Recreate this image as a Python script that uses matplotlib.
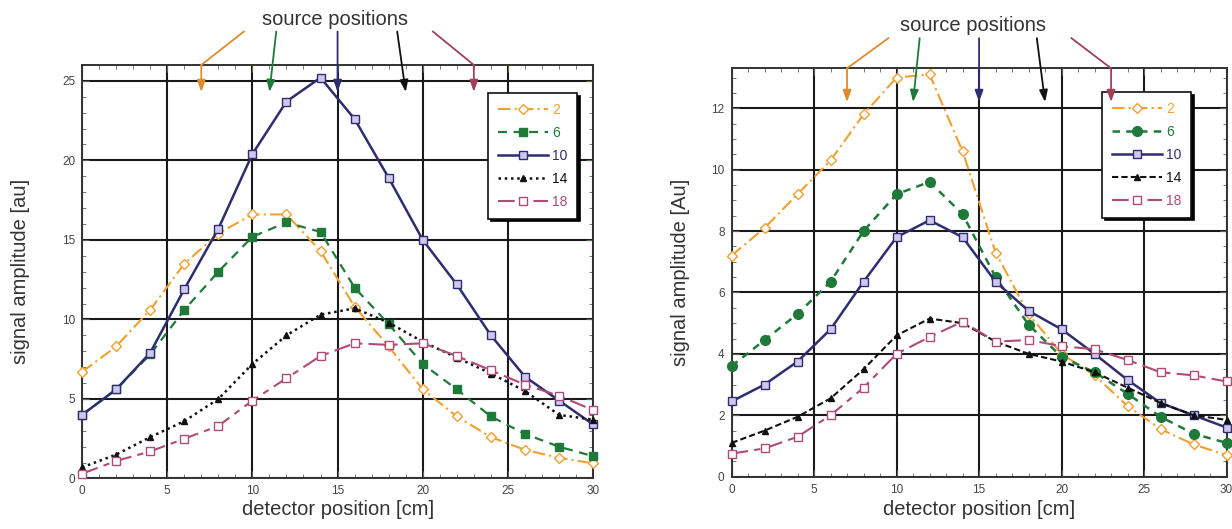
import matplotlib

matplotlib.use("Agg")
import matplotlib.pyplot as plt
from matplotlib.ticker import MultipleLocator

plt.rcParams["font.family"] = ["Liberation Sans", "DejaVu Sans"]

# --- data ---
detector_x = [0, 2, 4, 6, 8, 10, 12, 14, 16, 18, 20, 22, 24, 26, 28, 30]
labels = ["2", "6", "10", "14", "18"]
source_positions = [7, 11, 15, 19, 23]

left_2 = [6.7, 8.3, 10.6, 13.5, 15.4, 16.6, 16.6, 14.3, 10.8, 8.3, 5.6, 3.9, 2.6, 1.8, 1.3, 0.95]
left_6 = [4.0, 5.6, 7.8, 10.6, 13.0, 15.2, 16.1, 15.5, 12.0, 9.7, 7.2, 5.6, 3.9, 2.8, 2.0, 1.4]
left_10 = [4.0, 5.6, 7.9, 11.9, 15.7, 20.4, 23.7, 25.2, 22.6, 18.9, 15.0, 12.2, 9.0, 6.4, 4.9, 3.4]
left_14 = [0.7, 1.5, 2.6, 3.6, 5.0, 7.2, 9.0, 10.3, 10.7, 9.8, 8.6, 7.6, 6.6, 5.5, 4.0, 3.7]
left_18 = [0.3, 1.1, 1.7, 2.5, 3.3, 4.9, 6.3, 7.7, 8.5, 8.4, 8.5, 7.7, 6.8, 5.9, 5.2, 4.3]

right_2 = [7.2, 8.1, 9.2, 10.3, 11.8, 13.0, 13.1, 10.6, 7.3, 5.3, 4.0, 3.3, 2.3, 1.55, 1.05, 0.7]
right_6 = [3.6, 4.45, 5.3, 6.35, 8.0, 9.2, 9.6, 8.55, 6.5, 4.95, 3.9, 3.4, 2.7, 1.95, 1.4, 1.1]
right_10 = [2.45, 3.0, 3.75, 4.8, 6.35, 7.8, 8.35, 7.8, 6.35, 5.4, 4.8, 4.0, 3.15, 2.4, 2.0, 1.6]
right_14 = [1.1, 1.5, 1.95, 2.55, 3.5, 4.6, 5.15, 5.0, 4.4, 4.0, 3.75, 3.4, 2.9, 2.4, 2.0, 1.85]
right_18 = [0.75, 0.92, 1.3, 2.0, 2.9, 4.0, 4.55, 5.05, 4.4, 4.45, 4.25, 4.15, 3.8, 3.4, 3.3, 3.1]

# where each arrow leaves the "source positions" text (x in data units)
arrow_start_x = [9.5, 11.4, 15.0, 18.5, 20.6]

# --- styles ---
COLORS = ["#f0a030", "#1f7a3a", "#2e2d70", "#111111", "#b04a78"]
ARROW_COLORS = ["#e08a30", "#1f7a3a", "#2e2d70", "#111111", "#a0405a"]
TICK = "#4f6e48"

left_styles = [
    dict(ls=(0, (6, 2, 1, 2)), marker="D", ms=5, mfc="white", lw=1.5),
    dict(ls=(0, (4, 3)), marker="s", ms=5.5, lw=1.6),
    dict(ls="-", marker="s", ms=5.5, mfc="#cfc8ec", lw=1.8),
    dict(ls=(0, (1, 1.5)), marker="^", ms=5, lw=1.8),
    dict(ls=(0, (8, 3, 3, 3)), marker="s", ms=5.5, mfc="white", lw=1.5),
]
right_styles = [
    dict(ls=(0, (6, 2, 1, 2)), marker="D", ms=5, mfc="white", lw=1.5),
    dict(ls=(0, (3, 2.5)), marker="o", ms=7, lw=1.8),
    dict(ls="-", marker="s", ms=5.5, mfc="#cfc8ec", lw=1.8),
    dict(ls=(0, (3, 1.5)), marker="^", ms=5, lw=1.5),
    dict(ls=(0, (8, 3, 3, 3)), marker="s", ms=5.5, mfc="white", lw=1.5),
]

fig = plt.figure(figsize=(12.32, 5.29), dpi=100, facecolor="white")
axL = fig.add_axes([0.0666, 0.0955, 0.4148, 0.7817])
axR = fig.add_axes([0.5938, 0.0989, 0.4018, 0.772])


def chrome(ax, ymax, ymajor, yminor):
    ax.set_xlim(0, 30)
    ax.set_ylim(0, ymax)
    ax.xaxis.set_major_locator(MultipleLocator(5))
    ax.xaxis.set_minor_locator(MultipleLocator(1))
    ax.yaxis.set_major_locator(MultipleLocator(ymajor))
    ax.yaxis.set_minor_locator(MultipleLocator(yminor))
    ax.grid(which="major", color="#1a1a1a", linewidth=1.5, zorder=0)
    ax.set_axisbelow(True)
    for s in ax.spines.values():
        s.set_color("#333333")
        s.set_linewidth(1.4)
    ax.tick_params(which="both", direction="in", top=True, right=True,
                   color=TICK, labelsize=8.5, labelcolor="#444444", pad=5)
    ax.tick_params(which="major", length=5)
    ax.tick_params(which="minor", length=3)


def draw_arrows(ax, ymax, y_text, y_tip):
    for sx, src, c in zip(arrow_start_x, source_positions, ARROW_COLORS):
        if src in (7, 23):
            # outer arrows bend at the top of the frame
            ax.plot([sx, src], [y_text, ymax], color=c, lw=1.3,
                    clip_on=False, zorder=6)
            start = (src, ymax)
        else:
            start = (sx, y_text)
        ax.annotate("", xy=(src, y_tip), xytext=start, annotation_clip=False,
                    arrowprops=dict(arrowstyle="-|>,head_length=0.7,head_width=0.25",
                                    color=c, lw=1.3, shrinkA=0, shrinkB=0),
                    zorder=6)


def panel(ax, series, styles, ymax, ymajor, yminor, ylabel, y_text, y_tip,
          leg_anchor, ylab_x, xlab_y, title_xy):
    chrome(ax, ymax, ymajor, yminor)
    for vals, lab, c, st in zip(series, labels, COLORS, styles):
        ax.plot(detector_x, vals, color=c, mec=c, label=lab, zorder=3,
                clip_on=False, **st)
    leg = ax.legend(loc="upper right", bbox_to_anchor=leg_anchor, fontsize=10,
                    handlelength=3.6, labelspacing=0.65, borderpad=0.7,
                    handletextpad=0.3, fancybox=False, framealpha=1,
                    edgecolor="#111111",
                    shadow={"color": "black", "alpha": 1})
    leg.get_frame().set_linewidth(1.2)
    for t, c in zip(leg.get_texts(), COLORS):
        t.set_color(c)
    ax.set_ylabel(ylabel, fontsize=14.5, color="#333333")
    ax.yaxis.set_label_coords(ylab_x, 0.5)
    ax.set_xlabel("detector position [cm]", fontsize=14.5, color="#333333")
    ax.xaxis.set_label_coords(0.5, xlab_y)
    draw_arrows(ax, ymax, y_text, y_tip)
    ax.text(title_xy[0], title_xy[1], "source positions", transform=ax.transAxes,
            ha="center", va="center", fontsize=14.5, color="#333333",
            clip_on=False)


panel(axL, [left_2, left_6, left_10, left_14, left_18], left_styles,
      26, 5, 1, "signal amplitude [au]", 28.1, 24.3,
      (0.982, 0.949), -0.102, -0.052, (0.495, 1.109))
panel(axR, [right_2, right_6, right_10, right_14, right_18], right_styles,
      13.3, 2, 0.5, "signal amplitude [Au]", 14.28, 12.2,
      (0.943, 0.959), -0.084, -0.058, (0.487, 1.106))

fig.savefig("out.png", dpi=100, facecolor="white")
